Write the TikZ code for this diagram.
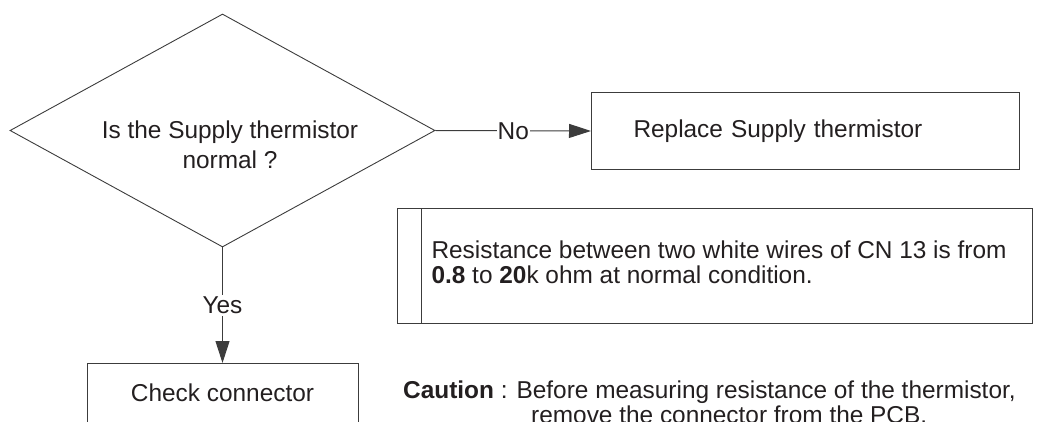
\documentclass[tikz,border=0pt]{standalone}
\usepackage{fontspec}
\setmainfont{Liberation Sans}
\usepackage{tikz}
\usetikzlibrary{shapes.geometric, arrows.meta, positioning}
\definecolor{ink}{HTML}{231F20}
\definecolor{rule}{HTML}{3C3C3C}

\begin{document}
\begin{tikzpicture}[
    x=1pt, y=-1pt,
    font=\fontsize{24.4}{25}\selectfont, text=ink,
    decision/.style={diamond, draw=rule, line width=0.9pt, minimum width=425pt, minimum height=233pt, inner sep=0pt},
    action/.style={rectangle, draw=rule, line width=1pt, inner sep=0pt},
    flow/.style={-{Triangle[length=22pt, width=14pt]}, draw=rule, line width=1pt},
    tag/.style={fill=white, inner xsep=1pt, inner ysep=2pt}
]
\useasboundingbox (0,0) rectangle (1038,422);
\clip (0,0) rectangle (1038,422);

% Decision
\node[decision] (q) at (222.5,130.5) {};
\node[align=center, font=\fontsize{24.4}{30}\selectfont] (qtext) at (230,145) {Is the Supply thermistor\\normal ?};

% No branch
\node[action, anchor=north west, minimum width=428pt, minimum height=77pt, text width=344pt, inner xsep=42pt, align=left] (rep) at (591,92) {Replace Supply thermistor};
\draw[flow] (q.east) -- node[tag] {No} (rep.west);

% Yes branch
\node[action, anchor=north, minimum width=271pt, text height=38pt, text depth=52pt] (chk) at (222.5,363) {Check connector};
\draw[flow] (q.south) -- node[tag] {Yes} (chk.north);

% Note box
\node[action, anchor=north west, minimum width=635pt, minimum height=115pt] (note) at (397,208) {};
\draw[draw=rule, line width=1pt] ([xshift=24pt]note.north west) -- ([xshift=24pt]note.south west);
\node[anchor=west, align=left] (notetext) at (428,262) {Resistance between two white wires of CN 13 is from\\\textbf{0.8} to \textbf{20}k ohm at normal condition.};

% Caution
\node[anchor=north west, align=left, inner sep=0pt] (caution) at (403,381) {\textbf{Caution} : Before measuring resistance of the thermistor,\\\hspace*{128pt}remove the connector from the PCB.};

\end{tikzpicture}
\end{document}
